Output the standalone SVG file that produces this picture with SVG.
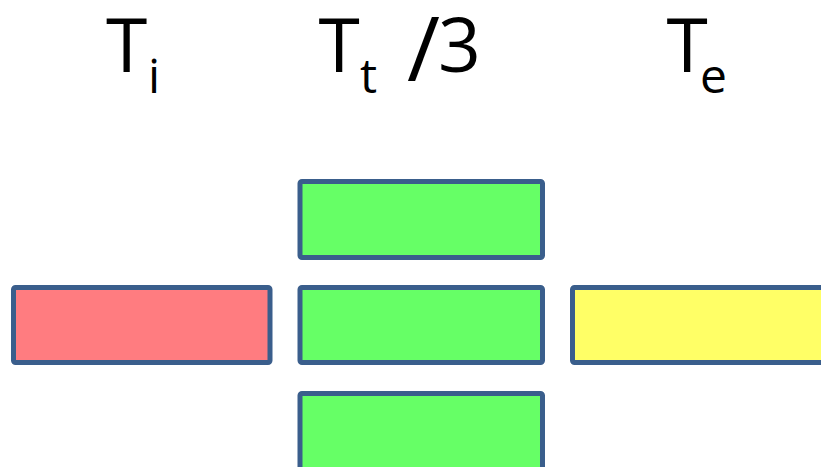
<svg xmlns="http://www.w3.org/2000/svg" width="821" height="467" viewBox="0 0 821 467">
<style>
.lbl{font-family:"Open Sans","Liberation Sans",sans-serif;font-size:75px;fill:#000}
.sub{font-size:48px}
.box{stroke:#3A5E8C;stroke-width:5;stroke-linejoin:round}
.red{fill:#FF7C80}
.green{fill:#66FF66}
.yellow{fill:#FFFF66}
</style>
<rect width="821" height="467" fill="#fff"/>
<g id="labels">
<text id="label-ti" class="lbl" x="106" y="72">T<tspan class="sub" x="148" y="93">i</tspan></text>
<text id="label-tt" class="lbl" x="318.5" y="72">T<tspan class="sub" x="360" y="93">t</tspan><tspan x="407" y="81" style="font-size:90px">/</tspan><tspan x="438" y="72">3</tspan></text>
<text id="label-te" class="lbl" x="666.5" y="72">T<tspan class="sub" x="700" y="93">e</tspan></text>
</g>
<g id="node-red"><rect class="box red" x="13.5" y="287.5" width="256.5" height="75" rx="2"/></g>
<g id="node-green-top"><rect class="box green" x="300" y="181.5" width="242.5" height="76" rx="2"/></g>
<g id="node-green-mid"><rect class="box green" x="300" y="287.5" width="242.5" height="75" rx="2"/></g>
<g id="node-green-bottom"><rect class="box green" x="300" y="393.5" width="242.5" height="80" rx="2"/></g>
<g id="node-yellow"><rect class="box yellow" x="572.5" y="287.5" width="260" height="75" rx="2"/></g>
<g id="connectors"></g>
</svg>
